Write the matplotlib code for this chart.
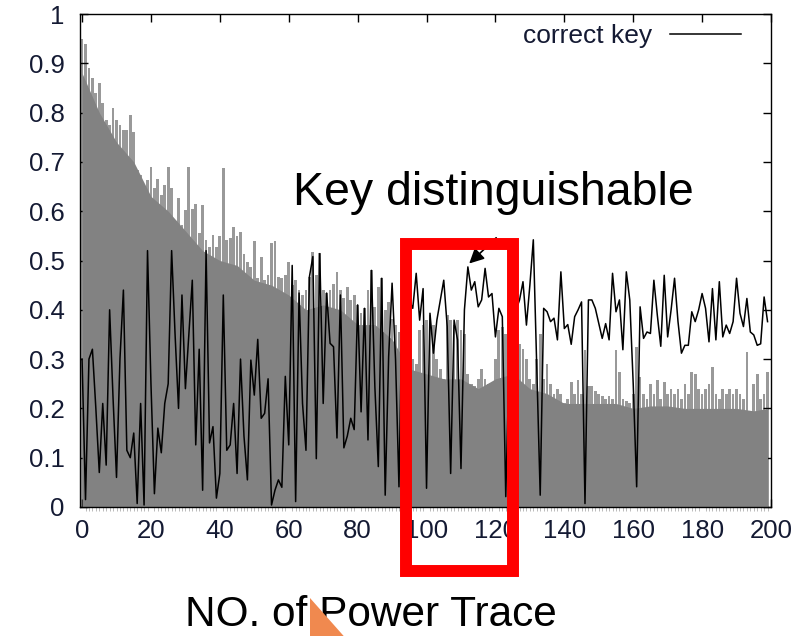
import matplotlib
matplotlib.use("Agg")
from matplotlib import pyplot as plt
from matplotlib.patches import Rectangle, Polygon
import numpy as np

plt.rcParams['font.family'] = ['Liberation Sans', 'DejaVu Sans']

# correct key correlation, one value per power trace count (0..199)
correct_key = [
    0.30, 0.015, 0.30, 0.32, 0.20, 0.07, 0.21, 0.085, 0.40, 0.22,
    0.06, 0.30, 0.44, 0.115, 0.10, 0.15, 0.007, 0.21, 0.004, 0.52,
    0.25, 0.027, 0.16, 0.11, 0.21, 0.25, 0.52, 0.35, 0.20, 0.43,
    0.24, 0.35, 0.46, 0.126, 0.32, 0.034, 0.52, 0.13, 0.163, 0.018,
    0.068, 0.43, 0.115, 0.126, 0.21, 0.068, 0.30, 0.144, 0.055, 0.298,
    0.227, 0.34, 0.18, 0.19, 0.26, 0.004, 0.034, 0.055, 0.04, 0.265,
    0.126, 0.49, 0.011, 0.434, 0.21, 0.115, 0.467, 0.508, 0.098, 0.514,
    0.21, 0.434, 0.332, 0.325, 0.14, 0.43, 0.12, 0.144, 0.18, 0.157,
    0.41, 0.193, 0.403, 0.136, 0.48, 0.244, 0.082, 0.464, 0.024, 0.305,
    0.454, 0.30, 0.041, 0.45, 0.38, 0.42, 0.403, 0.474, 0.379, 0.443,
    0.038, 0.393, 0.312, 0.379, 0.42, 0.46, 0.366, 0.068, 0.379, 0.339,
    0.078, 0.40, 0.487, 0.44, 0.457, 0.406, 0.42, 0.484, 0.426, 0.433,
    0.345, 0.403, 0.386, 0.021, 0.30, 0.45, 0.40, 0.42, 0.457, 0.369,
    0.45, 0.542, 0.28, 0.024, 0.403, 0.396, 0.376, 0.383, 0.339, 0.477,
    0.362, 0.37, 0.33, 0.386, 0.40, 0.416, 0.007, 0.42, 0.42, 0.403,
    0.372, 0.342, 0.372, 0.339, 0.474, 0.396, 0.42, 0.319, 0.477, 0.42,
    0.25, 0.041, 0.406, 0.342, 0.355, 0.352, 0.46, 0.389, 0.326, 0.47,
    0.345, 0.40, 0.464, 0.376, 0.312, 0.328, 0.328, 0.396, 0.376, 0.40,
    0.433, 0.403, 0.335, 0.443, 0.339, 0.457, 0.345, 0.369, 0.352, 0.376,
    0.464, 0.393, 0.366, 0.423, 0.355, 0.349, 0.328, 0.331, 0.426, 0.376,
]

# highest wrong-key correlation at each trace count (light spikes)
wrong_peak = [
    0.95, 0.94, 0.89, 0.87, 0.84, 0.86, 0.82, 0.785, 0.775, 0.81,
    0.785, 0.775, 0.765, 0.765, 0.795, 0.76, 0.684, 0.674, 0.64, 0.663,
    0.69, 0.647, 0.665, 0.633, 0.653, 0.69, 0.647, 0.568, 0.626, 0.572,
    0.602, 0.69, 0.605, 0.615, 0.555, 0.612, 0.541, 0.528, 0.552, 0.528,
    0.549, 0.687, 0.541, 0.545, 0.568, 0.549, 0.558, 0.514, 0.497, 0.487,
    0.54, 0.464, 0.508, 0.46, 0.47, 0.535, 0.54, 0.467, 0.464, 0.47,
    0.497, 0.45, 0.46, 0.44, 0.43, 0.44, 0.467, 0.518, 0.47, 0.515,
    0.44, 0.434, 0.44, 0.453, 0.477, 0.44, 0.423, 0.447, 0.42, 0.43,
    0.41, 0.393, 0.403, 0.44, 0.48, 0.406, 0.447, 0.464, 0.40, 0.416,
    0.382, 0.37, 0.355, 0.349, 0.34, 0.33, 0.30, 0.29, 0.36, 0.37,
    0.38, 0.39, 0.37, 0.30, 0.28, 0.26, 0.39, 0.38, 0.37, 0.38,
    0.36, 0.35, 0.27, 0.25, 0.245, 0.26, 0.28, 0.26, 0.25, 0.245,
    0.30, 0.36, 0.366, 0.35, 0.32, 0.30, 0.34, 0.33, 0.32, 0.30,
    0.26, 0.25, 0.30, 0.35, 0.26, 0.29, 0.25, 0.23, 0.24, 0.23,
    0.21, 0.22, 0.254, 0.23, 0.258, 0.23, 0.318, 0.245, 0.245, 0.235,
    0.23, 0.225, 0.22, 0.225, 0.22, 0.318, 0.274, 0.22, 0.215, 0.21,
    0.23, 0.325, 0.264, 0.23, 0.22, 0.25, 0.23, 0.258, 0.22, 0.254,
    0.23, 0.24, 0.23, 0.24, 0.22, 0.25, 0.23, 0.274, 0.27, 0.24,
    0.23, 0.24, 0.25, 0.284, 0.23, 0.22, 0.24, 0.23, 0.24, 0.23,
    0.24, 0.23, 0.22, 0.315, 0.172, 0.25, 0.27, 0.22, 0.23, 0.274,
]

# top of the dense band of wrong keys
body_x = [0, 5, 10, 15, 20, 25, 30, 35, 40, 45, 50, 55, 60, 65, 70, 75, 80,
          85, 90, 95, 100, 105, 110, 115, 120, 125, 130, 135, 140, 145, 150,
          155, 160, 165, 170, 175, 180, 185, 190, 195, 199]
body_top = [0.88, 0.80, 0.74, 0.70, 0.63, 0.60, 0.56, 0.52, 0.50, 0.49, 0.46,
            0.45, 0.43, 0.40, 0.41, 0.40, 0.37, 0.37, 0.34, 0.28, 0.27, 0.26,
            0.26, 0.24, 0.26, 0.27, 0.24, 0.23, 0.21, 0.21, 0.21, 0.21, 0.20,
            0.205, 0.205, 0.20, 0.20, 0.20, 0.20, 0.195, 0.20]

traces = np.arange(len(correct_key))

W, H = 799, 636
fig = plt.figure(figsize=(W / 100, H / 100), dpi=100)
ax = fig.add_axes([80 / W, 1 - 507 / H, 691 / W, 493 / H])

ax.bar(traces, wrong_peak, width=0.8, color='#999999', linewidth=0, zorder=1)
ax.fill_between(body_x, 0, body_top, color='#828282', linewidth=0, zorder=2)
ax.plot(traces, correct_key, color='black', linewidth=1.1, label='correct key', zorder=3)

ax.set_xlim(-0.6, 200)
ax.set_ylim(0, 1)
ax.set_xticks(np.arange(0, 201, 20))
ax.set_yticks(np.arange(0, 1.01, 0.1))
ax.set_yticklabels(['0'] + [f'{v:.1f}' for v in np.arange(0.1, 0.95, 0.1)] + ['1'])
ax.set_xticks(traces, minor=True)

label_color = '#141a33'
ax.tick_params(which='major', direction='in', length=6, width=1, top=True, right=True,
               labelsize=18.5, labelcolor=label_color, pad=9)
ax.tick_params(axis='y', pad=11)
ax.tick_params(axis='x', which='minor', direction='out', length=3, width=0.6,
               color='#b0b0b0', bottom=True, top=False)
for s in ax.spines.values():
    s.set_linewidth(1.0)

ax.legend(loc='center right', bbox_to_anchor=(741 / W, 1 - 36 / H), bbox_transform=fig.transFigure,
          frameon=False, markerfirst=False, fontsize=19, handlelength=2.7, handletextpad=0.65,
          borderpad=0, borderaxespad=0, labelcolor=label_color)

# annotations
fig.text(293 / W, 1 - 205 / H, 'Key distinguishable', fontsize=33.5, ha='left', va='baseline')
fig.text(185 / W, 1 - 626 / H, 'NO. of Power Trace', fontsize=30.5, ha='left', va='baseline')

ax.annotate('', xy=(111.8, 0.49), xytext=(120.8, 0.55), annotation_clip=False,
            arrowprops=dict(arrowstyle='-|>', color='black', lw=1.2, mutation_scale=22), zorder=5)

fig.add_artist(Rectangle((406 / W, 1 - 571 / H), 107 / W, 327 / H, transform=fig.transFigure,
                         fill=False, edgecolor='#ff0000', linewidth=8.6, joinstyle='miter', zorder=10))
fig.add_artist(Polygon([(310 / W, 1 - 597.7 / H), (310 / W, -0.01), (349 / W, -0.01)],
                       closed=True, transform=fig.transFigure, facecolor='#f0894f',
                       edgecolor='none', zorder=11))

fig.savefig('out.png', dpi=100)
